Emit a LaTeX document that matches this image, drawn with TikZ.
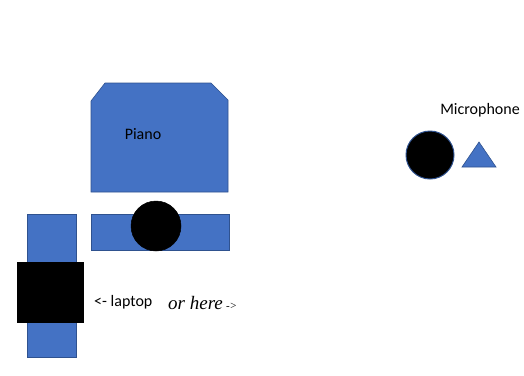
\documentclass[tikz,border=0pt]{standalone}
\usepackage{fontspec}
\setmainfont{Carlito}
\newfontfamily\timesit{Liberation Serif}
\definecolor{ofblue}{HTML}{4472C4}
\definecolor{ofedge}{HTML}{2F528F}
\begin{document}
\begin{tikzpicture}[x=1pt,y=-1pt,
  blueshape/.style={fill=ofblue,draw=ofedge,line width=0.6pt},
  blackshape/.style={fill=black,draw=black,line width=0.5pt},
  lbl/.style={font=\fontsize{16}{18}\selectfont,inner sep=0pt}]
\useasboundingbox (0,0) rectangle (524,375);
% piano
\draw[blueshape] (105,83) -- (211,83) -- (228,100) -- (228,192) -- (91,192) -- (91,101) -- cycle;
\node[lbl,anchor=base] (piano) at (143,139) {Piano};
% bench
\draw[blueshape] (91,214) rectangle (229,250);
\draw[blackshape] (156,226) circle (25);
% left stand
\draw[blueshape] (27,214) rectangle (76,357);
\draw[blackshape] (17,262) rectangle (83,322);
% texts
\node[lbl,anchor=base west] (laptop) at (94,306) {<- laptop};
\node[inner sep=0pt,anchor=base west,font=\timesit\itshape\fontsize{19}{21}\selectfont] (orhere) at (168,309) {or here\,{\fontsize{11}{12}\selectfont->}};
% microphone
\node[lbl,anchor=base] (mic) at (480,114) {Microphone};
\draw[fill=black,draw=ofedge,line width=1pt] (430,155) circle (24);
\draw[blueshape] (462,167) -- (479,142) -- (496,167) -- cycle;
\end{tikzpicture}
\end{document}
